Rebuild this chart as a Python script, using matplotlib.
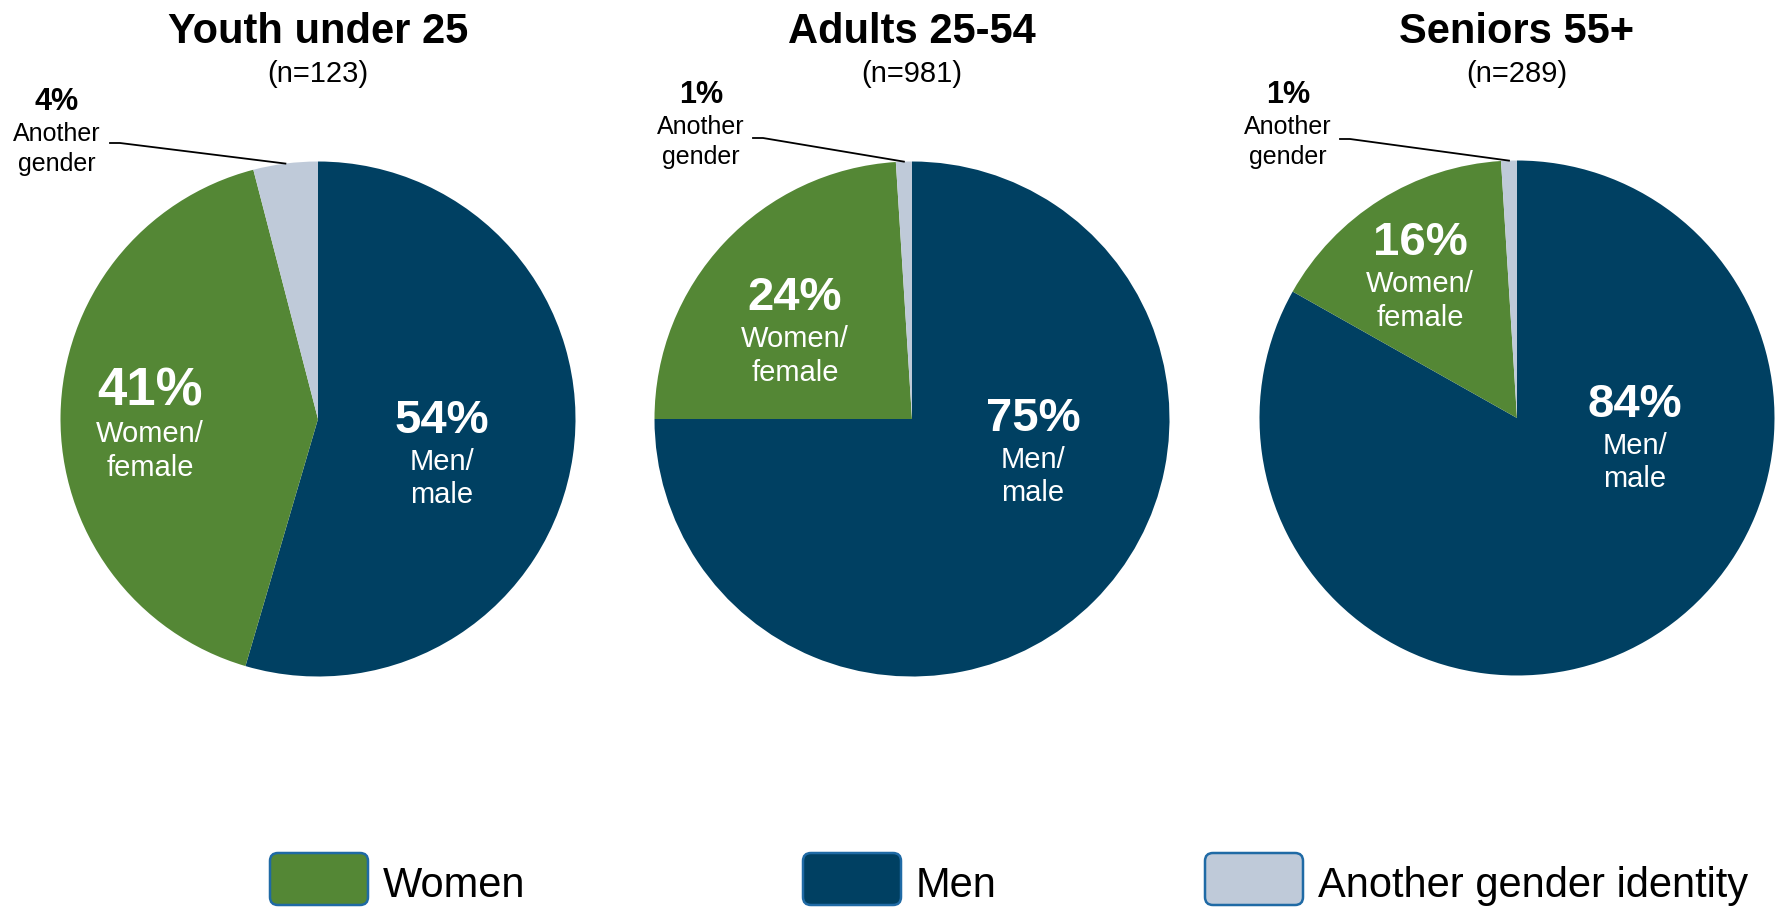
import matplotlib
matplotlib.use("Agg")
import matplotlib.pyplot as plt
from matplotlib.patches import FancyBboxPatch
import numpy as np

plt.rcParams['font.family'] = ['Liberation Sans', 'DejaVu Sans']

# data
groups = ["Youth under 25", "Adults 25-54", "Seniors 55+"]
sample_sizes = [123, 981, 289]
men = [54, 75, 84]
women = [41, 24, 16]
another = [4, 1, 1]

legend_labels = ["Women", "Men", "Another gender identity"]
col_women = "#548735"
col_men = "#004062"
col_another = "#bfcad9"

W, H = 1777, 907
fig = plt.figure(figsize=(W / 100, H / 100), dpi=100)

# layout (pixels)
centers = [(318, 419), (912, 419), (1517, 418)]
R = 257.5
men_lbl = [(442, 433), (1033, 431), (1635, 417)]
women_lbl = [(150, 405), (795, 310), (1420, 255)]
women_pct_size = [38, 34, 34]
other_lbl = [(57, 110), (701, 103), (1288, 103)]
leader_start = [(110, 143), (753, 138), (1340, 139)]

for i in range(3):
    cx, cy = centers[i]
    ax = fig.add_axes([(cx - R) / W, 1 - (cy + R) / H, 2 * R / W, 2 * R / H])
    ax.pie([men[i], women[i], another[i]], colors=[col_men, col_women, col_another],
           startangle=90, counterclock=False, radius=1,
           wedgeprops=dict(linewidth=0))
    ax.set_xlim(-1, 1)
    ax.set_ylim(-1, 1)
    ax.axis('off')

# overlay in pixel coords for text and lines
ov = fig.add_axes([0, 0, 1, 1])
ov.set_xlim(0, W)
ov.set_ylim(H, 0)
ov.axis('off')
ov.patch.set_alpha(0)

for i in range(3):
    cx, cy = centers[i]
    ov.text(cx, 43, groups[i], fontsize=30, fontweight='bold', ha='center', va='baseline')
    ov.text(cx, 82, f"(n={sample_sizes[i]})", fontsize=21, ha='center', va='baseline')

    # men label
    x, y = men_lbl[i]
    ov.text(x, y, f"{men[i]}%", fontsize=34, fontweight='bold', color='white', ha='center', va='baseline')
    ov.text(x, y + 37, "Men/", fontsize=21, color='white', ha='center', va='baseline')
    ov.text(x, y + 70, "male", fontsize=21, color='white', ha='center', va='baseline')

    # women label
    x, y = women_lbl[i]
    ov.text(x, y, f"{women[i]}%", fontsize=women_pct_size[i], fontweight='bold', color='white',
            ha='center', va='baseline')
    ov.text(x, y + 37, "Women/", fontsize=21, color='white', ha='center', va='baseline')
    ov.text(x, y + 71, "female", fontsize=21, color='white', ha='center', va='baseline')

    # another gender label outside
    x, y = other_lbl[i]
    ov.text(x, y, f"{another[i]}%", fontsize=22, fontweight='bold', ha='center', va='baseline')
    ov.text(x, y + 31, "Another", fontsize=18, ha='center', va='baseline')
    ov.text(x, y + 61, "gender", fontsize=18, ha='center', va='baseline')

    total = men[i] + women[i] + another[i]
    theta = np.deg2rad(90 + 0.5 * another[i] / total * 360)
    ex = cx + R * np.cos(theta)
    ey = cy - R * np.sin(theta)
    sx, sy = leader_start[i]
    ov.plot([sx, sx + 10, ex], [sy, sy, ey], color='black', lw=1.3)

# legend
box_left = [270, 803, 1205]
box_cols = [col_women, col_men, col_another]
for i in range(3):
    bx = box_left[i]
    box = FancyBboxPatch((bx + 8, 853 + 8), 98 - 16, 52 - 16,
                         boxstyle="round,pad=8", facecolor=box_cols[i],
                         edgecolor="#1f6aa5", linewidth=1.8)
    ov.add_patch(box)
    ov.text(bx + 98 + 15, 897, legend_labels[i], fontsize=30, ha='left', va='baseline')

fig.savefig("out.png", dpi=100)
